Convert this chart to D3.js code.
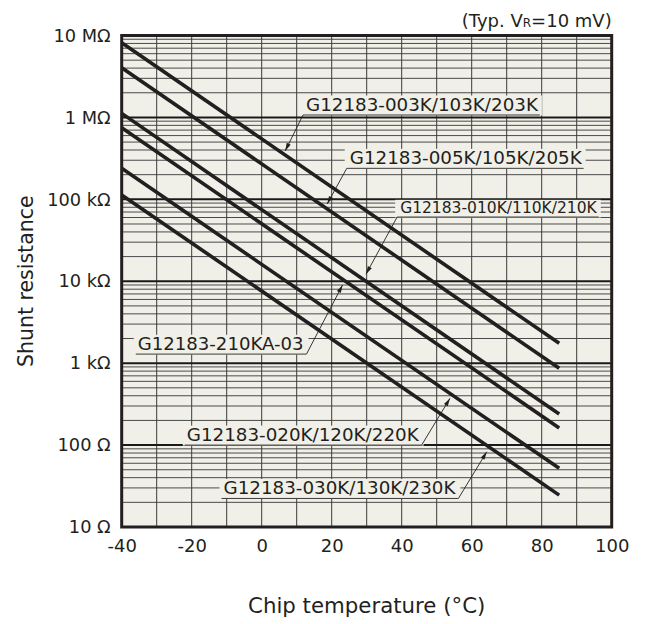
<!DOCTYPE html>
<html>
<head>
<meta charset="utf-8">
<script src="https://cdn.jsdelivr.net/npm/d3@7"></script>
<style>
  html, body { margin: 0; padding: 0; background: #ffffff; }
  svg { display: block; }
  text { font-family: "DejaVu Sans", Verdana, sans-serif; fill: #231f20; }
</style>
</head>
<body>
<div id="chart"></div>
<script>
// ---------- data ----------
const temperatures = [-40, 85];           // °C, start and end of each curve
const seriesNames = [
  "G12183-003K/103K/203K",
  "G12183-005K/105K/205K",
  "G12183-010K/110K/210K",
  "G12183-210KA-03",
  "G12183-020K/120K/220K",
  "G12183-030K/130K/230K"
];
const r003K  = [8.17e6, 1746];
const r005K  = [4.04e6, 865];
const r010K  = [1.12e6, 239];
const r210KA = [7.48e5, 162];
const r020K  = [2.39e5, 52];
const r030K  = [1.13e5, 24.5];
const seriesValues = [r003K, r005K, r010K, r210KA, r020K, r030K];

const xTickValues = [-40, -20, 0, 20, 40, 60, 80, 100];
const yTickValues = [10, 100, 1e3, 1e4, 1e5, 1e6, 1e7];
const yTickLabels = ["10 Ω", "100 Ω", "1 kΩ", "10 kΩ", "100 kΩ", "1 MΩ", "10 MΩ"];

// annotation anchors (data units): underline end at leader, arrow tip
const labelAnchorT = [11.8, 24.3, 38.7, 12.8, 45.7, 56.2];
const labelAnchorR = [1.07e6, 2.39e5, 6.08e4, 1.29e3, 100, 22.3];
const labelTipT    = [6.7, 18.7, 29.8, 23.1, 53.8, 64.3];
const labelTipR    = [3.89e5, 8.77e4, 1.22e4, 9.0e3, 372, 82.8];
const labelSide    = ["left", "left", "left", "right", "right", "right"];
const labelFont    = [18.3, 18.3, 15.5, 18.1, 18.3, 18.3];

// ---------- layout ----------
const W = 645, H = 624;
const margin = { left: 121.7, right: 33.3, top: 35.5, bottom: 97 };
const iw = W - margin.left - margin.right;
const ih = H - margin.top - margin.bottom;

const svg = d3.select("#chart").append("svg").attr("width", W).attr("height", H);
const g = svg.append("g").attr("transform", `translate(${margin.left},${margin.top})`);

const x = d3.scaleLinear().domain([-40, 100]).range([0, iw]);
const y = d3.scaleLog().domain([10, 1e7]).range([ih, 0]);

// background
g.append("rect").attr("width", iw).attr("height", ih).attr("fill", "#f1f0e8");

// minor horizontal grid
const minorVals = [];
for (let e = 1; e < 7; e++) for (let m = 2; m <= 9; m++) minorVals.push(m * Math.pow(10, e));
g.append("g").selectAll("line").data(minorVals).join("line")
  .attr("x1", 0).attr("x2", iw)
  .attr("y1", d => y(d)).attr("y2", d => y(d))
  .attr("stroke", "#4a4a4a").attr("stroke-width", 1);

// vertical grid every 10 °C
g.append("g").selectAll("line").data(d3.range(-30, 100, 10)).join("line")
  .attr("y1", 0).attr("y2", ih)
  .attr("x1", d => x(d)).attr("x2", d => x(d))
  .attr("stroke", "#3a3a3a").attr("stroke-width", 1);

// decade lines
g.append("g").selectAll("line").data(yTickValues.slice(1, -1)).join("line")
  .attr("x1", 0).attr("x2", iw)
  .attr("y1", d => y(d)).attr("y2", d => y(d))
  .attr("stroke", "#1a1a1a").attr("stroke-width", 2);

// curves
const line = d3.line().x(d => x(d[0])).y(d => y(d[1]));
g.append("g").selectAll("path").data(seriesValues).join("path")
  .attr("d", vals => line(temperatures.map((t, i) => [t, vals[i]])))
  .attr("fill", "none").attr("stroke", "#231f20").attr("stroke-width", 3.6)
  .attr("stroke-linecap", "butt");

// annotations
const ann = g.append("g");
seriesNames.forEach((name, i) => {
  const ax = x(labelAnchorT[i]), ay = y(labelAnchorR[i]);
  const tx = x(labelTipT[i]), ty = y(labelTipR[i]);
  const fs = labelFont[i];
  const grp = ann.append("g");
  const bg = grp.append("rect").attr("fill", "#f1f0e8");
  const txt = grp.append("text").text(name)
    .attr("font-size", fs)
    .attr("y", ay - 4.5);
  const tw = txt.node().getComputedTextLength();
  let u0, u1;
  if (labelSide[i] === "left") {
    txt.attr("x", ax + 3).attr("text-anchor", "start");
    u0 = ax; u1 = ax + tw + 5;
  } else {
    txt.attr("x", ax - 3).attr("text-anchor", "end");
    u0 = ax - tw - 5; u1 = ax;
  }
  bg.attr("x", u0 - 2).attr("width", u1 - u0 + 4)
    .attr("y", ay - 4.5 - fs * 0.82).attr("height", fs * 0.82 + 5);
  grp.append("line").attr("x1", u0).attr("x2", u1).attr("y1", ay).attr("y2", ay)
    .attr("stroke", "#3a3a3a").attr("stroke-width", 1);
  grp.append("line").attr("x1", ax).attr("y1", ay).attr("x2", tx).attr("y2", ty)
    .attr("stroke", "#231f20").attr("stroke-width", 0.9);
  // arrowhead
  const ang = Math.atan2(ty - ay, tx - ax);
  const L = 8, Wd = 2.2;
  const bx = tx - L * Math.cos(ang), by = ty - L * Math.sin(ang);
  const px = -Math.sin(ang) * Wd, py = Math.cos(ang) * Wd;
  grp.append("path")
    .attr("d", `M${tx},${ty}L${bx + px},${by + py}L${bx - px},${by - py}Z`)
    .attr("fill", "#231f20");
});

// frame
g.append("rect").attr("width", iw).attr("height", ih)
  .attr("fill", "none").attr("stroke", "#231f20").attr("stroke-width", 3);

// axes (labels only)
const xAxis = d3.axisBottom(x).tickValues(xTickValues).tickSize(0).tickPadding(12)
  .tickFormat(d => String(d));
const xg = g.append("g").attr("transform", `translate(0,${ih})`).call(xAxis);
xg.select(".domain").remove();
xg.selectAll("text").attr("font-size", 18).attr("fill", "#231f20")
  .attr("font-family", null);

const yAxis = d3.axisLeft(y).tickValues(yTickValues).tickSize(0).tickPadding(11)
  .tickFormat((d, i) => yTickLabels[i]);
const yg = g.append("g").call(yAxis);
yg.select(".domain").remove();
yg.selectAll("text").attr("font-size", 17.8).attr("fill", "#231f20")
  .attr("font-family", null);

// axis titles
svg.append("text").attr("x", margin.left + iw / 2).attr("y", 613)
  .attr("text-anchor", "middle").attr("font-size", 21.3)
  .text("Chip temperature (°C)");
svg.append("text").attr("transform", `translate(32.5,${margin.top + ih / 2}) rotate(-90)`)
  .attr("text-anchor", "middle").attr("font-size", 20.5)
  .text("Shunt resistance");

// condition note
const note = svg.append("text").attr("x", margin.left + iw).attr("y", 26.5)
  .attr("text-anchor", "end").attr("font-size", 18);
note.append("tspan").text("(Typ. V");
note.append("tspan").attr("font-size", 12).text("R");
note.append("tspan").text("=10 mV)");
</script>
</body>
</html>
